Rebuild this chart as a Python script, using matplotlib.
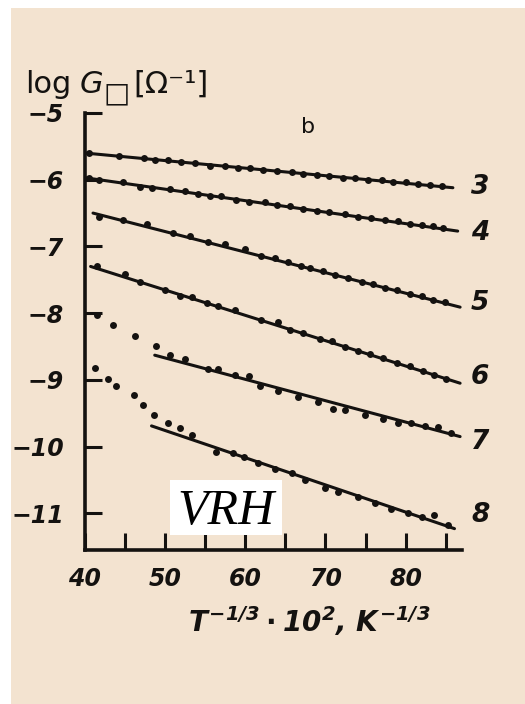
import matplotlib
matplotlib.use("Agg")
import matplotlib.pyplot as plt
from matplotlib.patches import Rectangle

# ---- data -------------------------------------------------------------
# measured points (x = T^-1/3 * 10^2, y = log G)
c3_x = [40.5, 44.2, 47.3, 48.7, 50.4, 52.0, 53.7, 55.6, 57.5, 59.1, 60.6, 62.2, 63.9,
        65.8, 67.2, 68.9, 70.5, 72.2, 73.7, 75.3, 77.0, 78.4, 80.1, 81.6, 83.0, 84.5]
c3_y = [-5.60, -5.64, -5.67, -5.70, -5.71, -5.74, -5.75, -5.79, -5.79, -5.83, -5.82, -5.85, -5.87,
        -5.88, -5.91, -5.93, -5.94, -5.97, -5.97, -6.00, -6.01, -6.04, -6.04, -6.07, -6.08, -6.10]

c4_x = [40.5, 41.7, 44.8, 46.9, 48.3, 50.6, 52.5, 54.1, 55.6, 57.0, 58.9, 60.4, 62.4, 63.9,
        65.6, 67.2, 68.9, 70.5, 72.4, 74.1, 75.7, 77.4, 79.1, 80.5, 82.0, 83.4, 84.7]
c4_y = [-5.97, -6.00, -6.04, -6.11, -6.13, -6.14, -6.17, -6.21, -6.25, -6.25, -6.30, -6.33, -6.34, -6.38,
        -6.40, -6.44, -6.47, -6.48, -6.52, -6.56, -6.57, -6.61, -6.62, -6.66, -6.68, -6.70, -6.73]

c5_x = [41.7, 44.8, 47.7, 51.0, 53.1, 55.4, 57.5, 60.0, 62.0, 63.7, 65.3, 67.0, 68.1,
        69.7, 71.2, 72.8, 74.5, 75.9, 77.4, 78.9, 80.5, 82.0, 83.4, 84.9]
c5_y = [-6.56, -6.61, -6.66, -6.80, -6.85, -6.94, -6.96, -7.04, -7.14, -7.18, -7.24, -7.29, -7.33,
        -7.37, -7.43, -7.47, -7.53, -7.56, -7.62, -7.66, -7.71, -7.75, -7.80, -7.84]

c6_x = [41.5, 45.0, 46.9, 50.0, 51.8, 53.3, 55.2, 56.6, 58.7, 62.0, 64.1, 65.6, 67.2,
        69.3, 70.8, 72.4, 74.1, 75.5, 77.2, 78.9, 80.5, 82.2, 83.6, 85.1]
c6_y = [-7.30, -7.42, -7.53, -7.66, -7.74, -7.76, -7.85, -7.90, -7.96, -8.10, -8.14, -8.25, -8.29,
        -8.38, -8.42, -8.50, -8.56, -8.61, -8.67, -8.74, -8.79, -8.87, -8.92, -8.99]

c7_x = [41.5, 43.5, 46.2, 48.8, 50.6, 52.5, 55.4, 56.6, 58.7, 60.4, 61.8, 64.1, 66.6,
        69.1, 71.0, 72.4, 74.9, 77.2, 79.1, 80.7, 82.4, 84.1, 85.7]
c7_y = [-8.03, -8.18, -8.34, -8.49, -8.62, -8.69, -8.84, -8.84, -8.93, -8.94, -9.09, -9.17, -9.25,
        -9.33, -9.43, -9.45, -9.53, -9.59, -9.64, -9.65, -9.69, -9.70, -9.80]

c8_x = [41.3, 42.9, 43.9, 46.1, 47.2, 48.6, 50.4, 51.8, 53.3, 56.4, 58.5, 59.9, 61.6, 63.7,
        65.8, 67.4, 69.9, 71.6, 74.1, 76.2, 78.2, 80.3, 82.0, 83.6, 85.3]
c8_y = [-8.82, -8.98, -9.09, -9.22, -9.37, -9.52, -9.65, -9.72, -9.83, -10.08, -10.10, -10.15,
        -10.25, -10.33, -10.40, -10.50, -10.62, -10.68, -10.75, -10.85, -10.93, -11.00, -11.05,
        -11.03, -11.18]

# straight-line fits (end points)
fit3_x, fit3_y = [40.0, 85.9], [-5.60, -6.12]
fit4_x, fit4_y = [40.0, 86.5], [-5.97, -6.77]
fit5_x, fit5_y = [41.0, 86.8], [-6.50, -7.91]
fit6_x, fit6_y = [40.7, 86.8], [-7.30, -9.05]
fit7_x, fit7_y = [48.7, 86.8], [-8.63, -9.85]
fit8_x, fit8_y = [48.3, 86.1], [-9.69, -11.23]

curve_labels = ["3", "4", "5", "6", "7", "8"]
curve_label_y = [-6.11, -6.80, -7.85, -8.95, -9.93, -11.03]

x_ticks = [40, 45, 50, 55, 60, 65, 70, 75, 80, 85]
x_ticklabels = ["40", "", "50", "", "60", "", "70", "", "80", ""]
y_ticks = [-5, -6, -7, -8, -9, -10, -11]
y_ticklabels = ["\u22125", "\u22126", "\u22127", "\u22128", "\u22129", "\u221210", "\u221211"]

# ---- figure -----------------------------------------------------------
W, H = 525, 704
BG = "#F3E3D0"
INK = "#141210"

plt.rcParams["mathtext.fontset"] = "custom"
plt.rcParams["mathtext.rm"] = "DejaVu Sans:italic:bold"
plt.rcParams["mathtext.it"] = "DejaVu Sans:italic:bold"

fig = plt.figure(figsize=(W / 100, H / 100), dpi=100, facecolor="white")


def fx(px):
    return px / W


def fy(py):
    return 1 - py / H


# paper-coloured panel
fig.patches.append(Rectangle((fx(11), 0), 1 - fx(11), fy(8), transform=fig.transFigure,
                             facecolor=BG, edgecolor="none", zorder=-5))

ax = fig.add_axes([fx(85), fy(550), fx(461.7) - fx(85), fy(113) - fy(550)])
ax.set_facecolor("none")
ax.set_xlim(40, 87)
ax.set_ylim(-11.55, -5)

for s in ("top", "right"):
    ax.spines[s].set_visible(False)
for s in ("left", "bottom"):
    ax.spines[s].set_linewidth(2.6)
    ax.spines[s].set_color(INK)

tick_font = dict(family="DejaVu Sans", style="italic", weight="bold", size=17)
ax.set_xticks(x_ticks)
ax.set_xticklabels(x_ticklabels, fontdict=tick_font, color=INK)
ax.set_yticks(y_ticks)
ax.set_yticklabels(y_ticklabels, fontdict=tick_font, color=INK)
ax.tick_params(direction="in", length=12, width=2.2, color=INK)
ax.tick_params(axis="x", pad=12)
ax.tick_params(axis="y", pad=15)

pts = [(c3_x, c3_y), (c4_x, c4_y), (c5_x, c5_y), (c6_x, c6_y), (c7_x, c7_y), (c8_x, c8_y)]
fits = [(fit3_x, fit3_y), (fit4_x, fit4_y), (fit5_x, fit5_y),
        (fit6_x, fit6_y), (fit7_x, fit7_y), (fit8_x, fit8_y)]

for (px_, py_), (lx, ly), lab, lab_y in zip(pts, fits, curve_labels, curve_label_y):
    ax.plot(lx, ly, color=INK, lw=2.2, solid_capstyle="round", zorder=3)
    ax.plot(px_, py_, "o", color=INK, ms=5.0, mew=0, zorder=4)
    ax.text(89.3, lab_y, lab, ha="center", va="center", clip_on=False,
            fontdict=dict(family="DejaVu Sans", style="italic", weight="bold", size=19),
            color=INK)

ax.text(67.8, -5.21, "b", ha="center", va="center", fontsize=16,
        family="DejaVu Sans", color=INK)

# axis titles
fig.text(fx(25), fy(93), "log", fontsize=22, family="DejaVu Sans", color=INK, va="baseline")
fig.text(fx(80), fy(93), "G", fontsize=22, family="DejaVu Sans", style="italic",
         color=INK, va="baseline")
fig.text(fx(103), fy(101), "\u25a1", fontsize=20, family="DejaVu Sans", color=INK, va="baseline")
fig.text(fx(133), fy(93), "[\u03a9\u207b\u00b9]", fontsize=22, family="DejaVu Sans",
         color=INK, va="baseline")

fig.text(fx(309), fy(632), r"$T^{-1/3}\cdot 10^{2}$, $K^{-1/3}$", fontsize=20,
         ha="center", va="baseline", color=INK,
         fontdict=dict(family="DejaVu Sans", style="italic", weight="bold"))

# annotation box
fig.patches.append(Rectangle((fx(170), fy(535)), fx(282) - fx(170), fy(480) - fy(535),
                             transform=fig.transFigure, facecolor="white",
                             edgecolor="none", zorder=5))
fig.text(fx(226), fy(524), "VRH", fontsize=36, family="Liberation Serif", style="italic",
         ha="center", va="baseline", color="black", zorder=6)

fig.savefig("out.png", dpi=100, facecolor="white")
